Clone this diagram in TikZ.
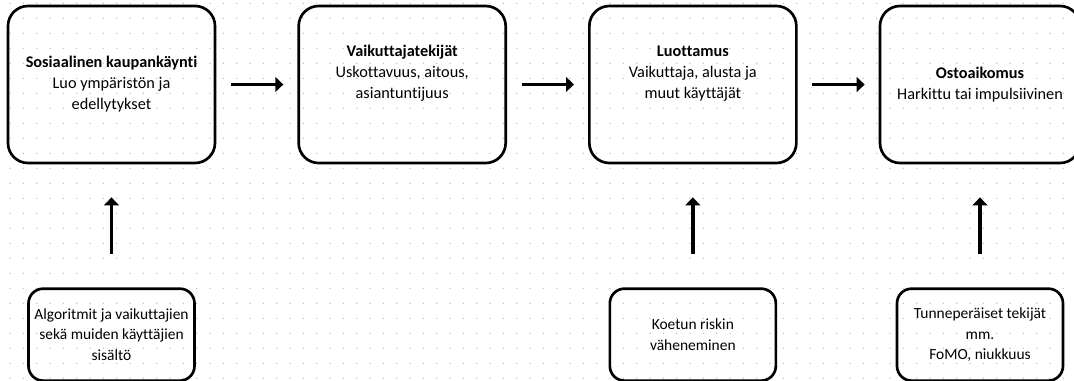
\documentclass[tikz,border=0pt]{standalone}
\usepackage{fontspec}
\setmainfont{Carlito}[Ligatures={TeX,NoCommon}]
\usepackage{xcolor}
\usetikzlibrary{arrows.meta, positioning}
\definecolor{dotgray}{RGB}{190,194,204}

\begin{document}
\begin{tikzpicture}[
    x=0.75pt, y=-0.75pt,
    node distance=92.25pt and 60.75pt,
    font=\fontsize{12.2}{15.75}\selectfont,
    every node/.style={align=center},
    stage/.style={draw, rounded corners=15pt, line width=2pt, minimum height=117.75pt, minimum width=155.25pt, inner sep=0pt},
    factor/.style={draw, rounded corners=11pt, line width=2pt, minimum height=69pt, minimum width=124.5pt, inner sep=0pt,
                   font=\fontsize{11.6}{15.4}\selectfont},
    arrow/.style={-{Triangle[length=6pt, width=11pt]}, line width=2.8pt},
]

% --- Canvas and dot grid
\fill[white] (0,0) rectangle (1074,380);
\useasboundingbox (0,0) rectangle (1074,380);
\foreach \i in {0,...,80}
  \foreach \j in {0,...,25}
    \fill[dotgray] (10+13.333*\i, 3.3+15*\j) circle (0.6pt);

% --- Row: main chain left-to-right
\node[stage] (kauppa) at (111.5,84.5)
    {\textbf{Sosiaalinen kaupankäynti}\\Luo ympäristön ja\\edellytykset};
\node[stage, right=of kauppa]   (vaikuttaja) {\textbf{Vaikuttajatekijät}\\Uskottavuus, aitous,\\asiantuntijuus\\[3pt]};
\node[stage, right=of vaikuttaja] (luottamus)  {\textbf{Luottamus}\\Vaikuttaja, alusta ja\\muut käyttäjät\\[3pt]};
\node[stage, right=of luottamus, minimum width=150pt] (aikomus) {\textbf{Ostoaikomus}\\Harkittu tai impulsiivinen};

% --- Row: influencing factors below
\node[factor, below=of kauppa]    (algo)  {Algoritmit ja vaikuttajien\\sekä muiden käyttäjien\\sisältö};
\node[factor, below=of luottamus] (riski) {Koetun riskin\\väheneminen};
\node[factor, below=of aikomus]   (tunne) {Tunneperäiset tekijät\\mm.\\FoMO, niukkuus};

% --- Arrows
\draw[arrow, shorten <=11pt, shorten >=10.5pt] (kauppa)     -- (vaikuttaja);
\draw[arrow, shorten <=11pt, shorten >=10.5pt] (vaikuttaja) -- (luottamus);
\draw[arrow, shorten <=11pt, shorten >=10.5pt] (luottamus)  -- (aikomus);
\draw[arrow, shorten <=24.75pt, shorten >=24.75pt] (algo)  -- (kauppa);
\draw[arrow, shorten <=24.75pt, shorten >=24.75pt] (riski) -- (luottamus);
\draw[arrow, shorten <=24.75pt, shorten >=24.75pt] (tunne) -- (aikomus);

\end{tikzpicture}
\end{document}
